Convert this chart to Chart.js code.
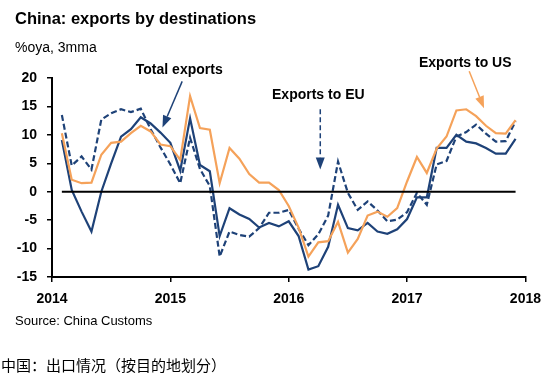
<!DOCTYPE html>
<html>
<head>
<meta charset="utf-8">
<script src="https://cdn.jsdelivr.net/npm/chart.js@4.4.0/dist/chart.umd.min.js"></script>
<style>
    html, body { margin: 0; padding: 0; background: #fff; }
    body { width: 550px; height: 374px; position: relative; overflow: hidden; font-family: "Liberation Sans", Arial, sans-serif; }
    #chartBox { position: absolute; left: 0; top: 0; width: 550px; height: 374px; }
    .txt { position: absolute; white-space: nowrap; color: #000; }
    #title { left: 15px; top: 9px; font-size: 16.5px; font-weight: bold; }
    #subtitle { left: 15px; top: 39px; font-size: 14px; }
    #source { left: 15px; top: 313px; font-size: 13px; }
    #cnNote { left: 1px; top: 356px; font-size: 15px; line-height: 18px; font-family: "Noto Sans CJK SC", sans-serif; }
</style>
</head>
<body>
<div id="chartBox"><canvas id="exportsChart" width="550" height="374"></canvas></div>
<div class="txt" id="title">China: exports by destinations</div>
<div class="txt" id="subtitle">%oya, 3mma</div>
<div class="txt" id="source">Source: China Customs</div>
<div class="txt" id="cnNote">中国：出口情况（按目的地划分）</div>
<script>
// month index since Dec 2013 (1 = Jan 2014 ... 47 = Nov 2017)
const months = [1, 2, 3, 4, 5, 6, 7, 8, 9, 10, 11, 12,
    13, 14, 15, 16, 17, 18, 19, 20, 21, 22, 23, 24,
    25, 26, 27, 28, 29, 30, 31, 32, 33, 34, 35, 36,
    37, 38, 39, 40, 41, 42, 43, 44, 45, 46, 47];
const yearLabels = ['2014', '2015', '2016', '2017', '2018'];

const totalExports = [9.1, 0.3, -3.5, -7.0, 0.0, 5.0, 9.7, 11.0, 13.1, 12.0, 10.4, 8.6,
    3.7, 12.9, 4.7, 3.6, -7.8, -2.9, -4.0, -4.8, -6.3, -5.5, -6.1, -5.2,
    -7.8, -13.7, -13.1, -9.7, -2.3, -6.4, -6.8, -5.5, -7.0, -7.4, -6.6, -4.8,
    -1.0, -1.0, 7.7, 7.7, 10.0, 8.8, 8.5, 7.7, 6.7, 6.7, 9.3];
const exportsToEU = [13.5, 4.6, 6.2, 3.9, 12.7, 13.8, 14.5, 14.0, 14.6, 11.0, 7.8, 4.8,
    1.5, 9.5, 4.0, 1.0, -11.4, -7.0, -7.6, -7.9, -6.4, -3.7, -3.7, -3.2,
    -6.5, -9.4, -7.5, -4.2, 5.3, -0.2, -3.2, -1.7, -3.3, -5.2, -4.9, -3.6,
    -0.2, -2.3, 4.8, 5.4, 9.7, 10.5, 11.8, 10.2, 8.8, 8.9, 12.4];
const exportsToUS = [10.3, 2.1, 1.5, 1.6, 6.5, 8.6, 8.8, 10.3, 11.6, 10.6, 8.3, 8.0,
    5.6, 16.8, 11.2, 10.9, 1.5, 7.7, 5.8, 3.1, 1.6, 1.6, 0.3, -2.5,
    -6.3, -11.4, -8.9, -8.7, -5.3, -10.7, -8.3, -4.2, -3.5, -4.4, -2.9, 1.8,
    6.1, 3.3, 7.6, 9.7, 14.3, 14.5, 13.3, 11.6, 10.3, 10.2, 12.6];

const NAVY = '#1e4278';
const ORANGE = '#f5a25a';

// callouts: label text, label position and arrow tail/head in data units
const callouts = [
    { text: 'Total exports', at: [12.9, 21.4], from: [13.2, 19.4], to: [11.2, 11.3], color: NAVY, dashed: false },
    { text: 'Exports to EU', at: [27.0, 16.9], from: [27.2, 14.5], to: [27.2, 3.9], color: NAVY, dashed: true },
    { text: 'Exports to US', at: [41.9, 22.7], from: [42.3, 21.2], to: [43.8, 14.7], color: ORANGE, dashed: false }
];

document.addEventListener('DOMContentLoaded', function () {
    renderChart();
});

function toPoints(values) {
    return months.map((m, i) => ({ x: m, y: values[i] }));
}

const calloutPlugin = {
    id: 'callouts',
    afterDatasetsDraw(chart) {
        const ctx = chart.ctx;
        const xs = chart.scales.x;
        const ys = chart.scales.y;
        callouts.forEach(c => {
            ctx.save();
            ctx.font = 'bold 14px "Liberation Sans", Arial, sans-serif';
            ctx.fillStyle = '#000';
            ctx.textAlign = 'center';
            ctx.textBaseline = 'middle';
            ctx.fillText(c.text, xs.getPixelForValue(c.at[0]), ys.getPixelForValue(c.at[1]));

            const x1 = xs.getPixelForValue(c.from[0]);
            const y1 = ys.getPixelForValue(c.from[1]);
            const x2 = xs.getPixelForValue(c.to[0]);
            const y2 = ys.getPixelForValue(c.to[1]);
            const ang = Math.atan2(y2 - y1, x2 - x1);
            const headLen = 12;
            const bx = x2 - headLen * Math.cos(ang);
            const by = y2 - headLen * Math.sin(ang);

            ctx.strokeStyle = c.color;
            ctx.lineWidth = 1.5;
            ctx.setLineDash(c.dashed ? [5, 3] : []);
            ctx.beginPath();
            ctx.moveTo(x1, y1);
            ctx.lineTo(bx, by);
            ctx.stroke();

            ctx.setLineDash([]);
            ctx.fillStyle = c.color;
            ctx.beginPath();
            ctx.moveTo(x2, y2);
            ctx.lineTo(bx + 4.5 * Math.sin(ang), by - 4.5 * Math.cos(ang));
            ctx.lineTo(bx - 4.5 * Math.sin(ang), by + 4.5 * Math.cos(ang));
            ctx.closePath();
            ctx.fill();
            ctx.restore();
        });
    }
};

function renderChart() {
    const ctx = document.getElementById('exportsChart').getContext('2d');
    const axisFont = { family: '"Liberation Sans", Arial, sans-serif', size: 14, weight: 'bold' };

    new Chart(ctx, {
        type: 'line',
        data: {
            datasets: [{
                label: 'Zero',
                data: [{ x: months[0], y: 0 }, { x: months[months.length - 1], y: 0 }],
                borderColor: '#000',
                borderWidth: 2,
                pointRadius: 0
            },
            {
                label: 'Exports to US',
                data: toPoints(exportsToUS),
                borderColor: ORANGE,
                borderWidth: 2.2,
                pointRadius: 0,
                tension: 0
            },
            {
                label: 'Exports to EU',
                data: toPoints(exportsToEU),
                borderColor: NAVY,
                borderWidth: 2.2,
                borderDash: [6, 3],
                pointRadius: 0,
                tension: 0
            },
            {
                label: 'Total exports',
                data: toPoints(totalExports),
                borderColor: NAVY,
                borderWidth: 2.2,
                pointRadius: 0,
                tension: 0
            }
            ]
        },
        options: {
            responsive: false,
            animation: false,
            events: [],
            layout: { padding: { top: 78, right: 22, left: 0, bottom: 0 } },
            plugins: {
                legend: { display: false },
                tooltip: { enabled: false }
            },
            scales: {
                x: {
                    type: 'linear',
                    min: 0,
                    max: 48,
                    afterFit: function (scale) { scale.height = 97; },
                    border: { display: true, color: '#000', width: 2 },
                    grid: { drawOnChartArea: false, drawTicks: true, tickLength: 5, color: '#000', lineWidth: 1.5 },
                    ticks: {
                        stepSize: 12,
                        padding: 9,
                        color: '#000',
                        font: axisFont,
                        maxRotation: 0,
                        callback: value => yearLabels[value / 12]
                    }
                },
                y: {
                    min: -15,
                    max: 20,
                    afterFit: function (scale) { scale.width = 52; },
                    border: { display: true, color: '#000', width: 2 },
                    grid: { drawOnChartArea: false, drawTicks: true, tickLength: 5, color: '#000', lineWidth: 1.5 },
                    ticks: {
                        stepSize: 5,
                        padding: 10,
                        color: '#000',
                        font: axisFont
                    }
                }
            }
        },
        plugins: [calloutPlugin]
    });
}
</script>
</body>
</html>
